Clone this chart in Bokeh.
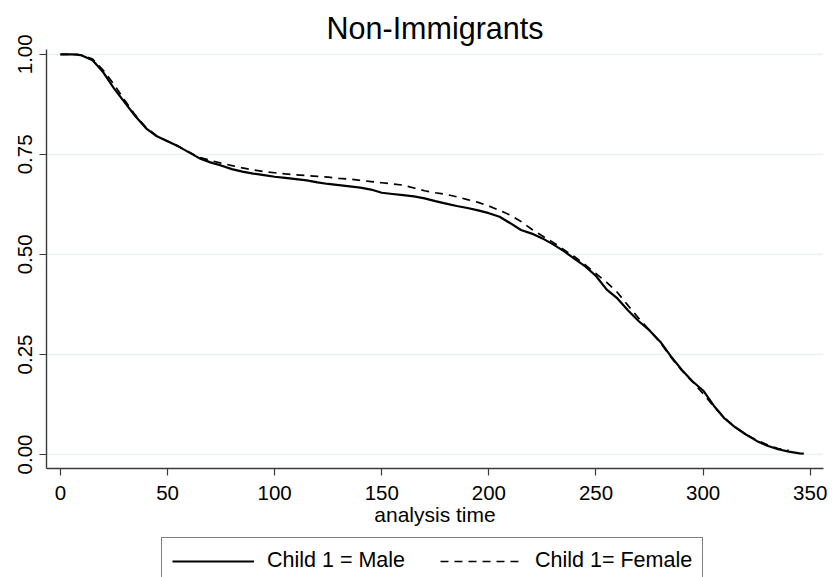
from bokeh.plotting import figure
from bokeh.layouts import column
from bokeh.models import Range1d, FixedTicker, Legend, LegendItem, NumeralTickFormatter
from bokeh.embed import file_html
from bokeh.resources import INLINE

title = "Non-Immigrants"
x_label = "analysis time"
labels = ["Child 1 = Male", "Child 1= Female"]
x_ticks = [0, 50, 100, 150, 200, 250, 300, 350]
y_ticks = [0.0, 0.25, 0.5, 0.75, 1.0]

t_male = [0, 5, 8, 10, 15, 20, 25, 30, 35, 40, 45, 50, 55, 60, 65, 70, 75, 80, 85, 90,
          95, 100, 105, 110, 115, 120, 125, 130, 135, 140, 145, 150, 155, 160, 165, 170,
          175, 180, 185, 190, 195, 200, 205, 210, 215, 220, 225, 230, 235, 240, 245, 250,
          255, 260, 265, 270, 275, 280, 285, 290, 295, 300, 305, 310, 315, 320, 325, 330,
          335, 340, 345, 347]
s_male = [1.000, 1.000, 0.999, 0.997, 0.985, 0.955, 0.915, 0.880, 0.845, 0.815, 0.795,
          0.783, 0.770, 0.755, 0.740, 0.730, 0.722, 0.713, 0.707, 0.702, 0.698, 0.694,
          0.691, 0.688, 0.685, 0.680, 0.676, 0.673, 0.670, 0.667, 0.662, 0.654, 0.651,
          0.648, 0.645, 0.640, 0.633, 0.627, 0.621, 0.616, 0.610, 0.603, 0.594, 0.578,
          0.561, 0.552, 0.540, 0.525, 0.508, 0.489, 0.470, 0.446, 0.412, 0.390, 0.360,
          0.333, 0.310, 0.282, 0.245, 0.212, 0.183, 0.160, 0.122, 0.090, 0.068, 0.050,
          0.034, 0.022, 0.013, 0.007, 0.003, 0.002]

t_female = [0, 5, 8, 10, 15, 20, 25, 30, 35, 40, 45, 50, 55, 60, 65, 70, 75, 80, 85, 90,
            95, 100, 105, 110, 115, 120, 125, 130, 135, 140, 145, 150, 155, 160, 165, 170,
            175, 180, 185, 190, 195, 200, 205, 210, 215, 220, 225, 230, 235, 240, 245, 250,
            255, 260, 265, 270, 275, 280, 285, 290, 295, 300, 305, 310, 315, 320, 325, 330,
            335, 340]
s_female = [1.000, 1.000, 0.999, 0.998, 0.988, 0.960, 0.925, 0.885, 0.848, 0.817, 0.796,
            0.783, 0.770, 0.756, 0.742, 0.735, 0.728, 0.722, 0.716, 0.711, 0.707, 0.704,
            0.701, 0.699, 0.697, 0.695, 0.693, 0.690, 0.688, 0.685, 0.682, 0.679, 0.676,
            0.673, 0.666, 0.659, 0.654, 0.650, 0.644, 0.637, 0.630, 0.621, 0.610, 0.598,
            0.582, 0.563, 0.546, 0.530, 0.512, 0.494, 0.474, 0.452, 0.430, 0.405, 0.372,
            0.340, 0.310, 0.280, 0.243, 0.210, 0.182, 0.152, 0.120, 0.092, 0.068, 0.050,
            0.036, 0.024, 0.015, 0.010]

FONT = "Liberation Sans"

p = figure(width=836, height=530, output_backend="svg", toolbar_location=None,
           x_range=Range1d(-6.5, 356.2), y_range=Range1d(-0.035, 1.012),
           min_border_left=46, min_border_right=13, min_border_top=49, min_border_bottom=62)
p.outline_line_color = None
p.background_fill_color = "white"
p.border_fill_color = "white"

p.title.text = title
p.title.align = "center"
p.title.text_font = FONT
p.title.text_font_size = "30.5px"
p.title.text_font_style = "normal"
p.title.text_color = "black"

p.xgrid.grid_line_color = None
p.ygrid.grid_line_color = "#EAF2F3"
p.ygrid.grid_line_width = 1.3
p.ygrid.ticker = FixedTicker(ticks=y_ticks)

for ax in (p.xaxis[0], p.yaxis[0]):
    ax.axis_line_color = "#3a3a3a"
    ax.axis_line_width = 1.4
    ax.major_tick_line_color = "#3a3a3a"
    ax.major_tick_line_width = 1.2
    ax.major_tick_out = 7
    ax.major_tick_in = 0
    ax.minor_tick_line_color = None
    ax.major_label_text_font = FONT
    ax.major_label_text_font_size = "20.5px"
    ax.major_label_text_color = "black"
    ax.axis_label_text_font = FONT
    ax.axis_label_text_font_size = "21px"
    ax.axis_label_text_font_style = "normal"
    ax.axis_label_text_color = "black"

p.xaxis.ticker = FixedTicker(ticks=x_ticks)
p.xaxis.axis_label = x_label
p.xaxis.major_label_standoff = 10
p.xaxis.axis_label_standoff = 0
p.yaxis.ticker = FixedTicker(ticks=y_ticks)
p.yaxis.formatter = NumeralTickFormatter(format="0.00")
p.yaxis.major_label_orientation = "vertical"
p.yaxis.major_label_standoff = 7

p.line(t_male, s_male, line_color="black", line_width=2.2)
p.line(t_female, s_female, line_color="black", line_width=1.7, line_dash="8 6")

# legend strip below the chart (its lower edge runs off the page, as in the reference)
q = figure(width=836, height=47, output_backend="svg", toolbar_location=None,
           x_range=Range1d(0, 1), y_range=Range1d(0, 1),
           x_axis_location=None, y_axis_location=None,
           min_border_left=0, min_border_right=0, min_border_top=0, min_border_bottom=0)
q.outline_line_color = None
q.xgrid.grid_line_color = None
q.ygrid.grid_line_color = None
lm = q.line([5, 6], [5, 6], line_color="black", line_width=2.2)
lf = q.line([5, 6], [5, 6], line_color="black", line_width=1.7, line_dash="8 6")

legend = Legend(items=[LegendItem(label=labels[0], renderers=[lm]),
                       LegendItem(label=labels[1], renderers=[lf])],
                orientation="horizontal", location=(115, -7),
                label_text_font=FONT, label_text_font_size="21.5px",
                label_text_color="black",
                glyph_width=82, glyph_height=22, label_standoff=13, spacing=35,
                padding=10, margin=0,
                border_line_color="black", border_line_width=1.3,
                background_fill_color="white")
q.add_layout(legend, "center")

layout = column(p, q, spacing=0)
open("out.html", "w").write(file_html(layout, INLINE))
